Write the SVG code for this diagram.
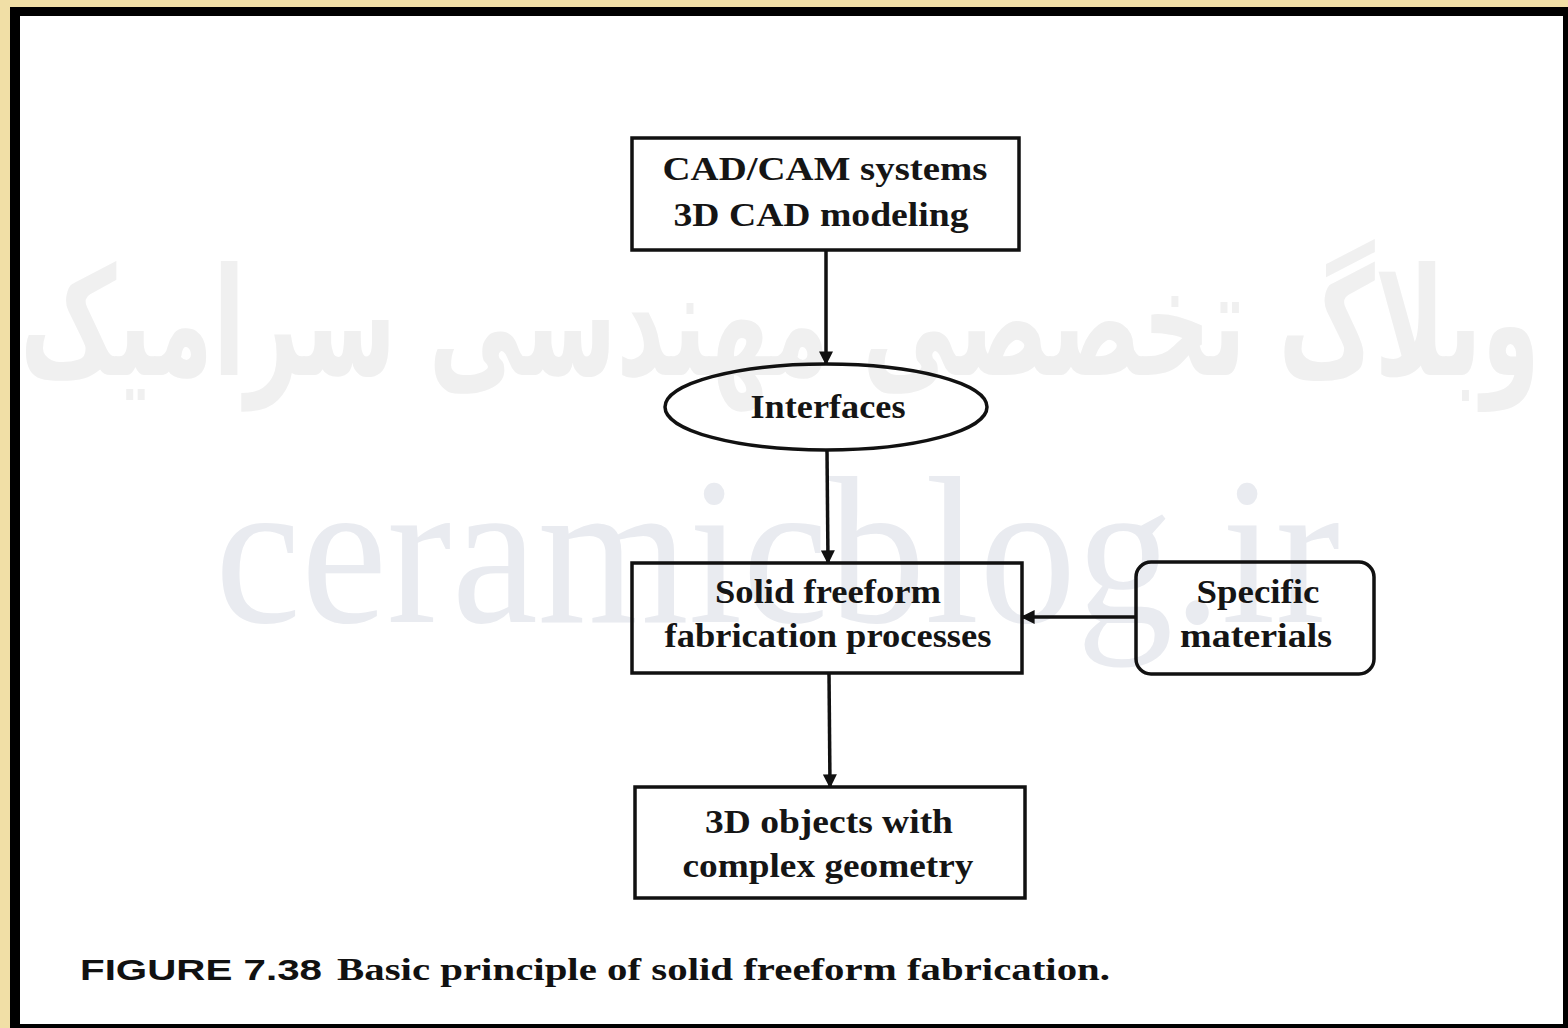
<svg xmlns="http://www.w3.org/2000/svg" width="1568" height="1028" viewBox="0 0 1568 1028">
<defs>
<style>
.box{fill:none;stroke:#111;stroke-width:3.5}
.t{font-family:"Liberation Serif","Times New Roman",serif;font-weight:bold;font-size:33px;fill:#151515;text-anchor:middle}
.cap{font-family:"Liberation Sans",Arial,sans-serif;font-weight:bold;font-size:30px;fill:#111}
.capr{font-family:"Liberation Serif","Times New Roman",serif;font-weight:bold;font-size:31px;fill:#111}
.edge{stroke:#111;stroke-width:3.5;fill:none}
</style>
<marker id="ah" viewBox="0 0 10 10" refX="9" refY="5" markerWidth="4" markerHeight="4" orient="auto" markerUnits="strokeWidth">
<path d="M0,0 L10,5 L0,10 z" fill="#111"/>
</marker>
</defs>
<rect x="0" y="0" width="1568" height="1028" fill="#f1dfa6"/>
<rect x="10" y="7" width="1558" height="1021" fill="#000"/>
<rect x="20" y="16" width="1543" height="1008" fill="#fff"/>
<g id="watermark">
<text x="780" y="375" font-family="'DejaVu Sans',sans-serif" font-weight="bold" font-size="150" fill="#f0f0f0" text-anchor="middle" textLength="1520" lengthAdjust="spacingAndGlyphs" direction="rtl">وبلاگ تخصصی مهندسی سرامیک</text>
<text x="215" y="622" font-family="'Liberation Serif',serif" font-size="210" fill="#e9ebf0" textLength="1125" lengthAdjust="spacingAndGlyphs">ceramicblog.ir</text>
</g>
<g id="connectors">
<line class="edge" x1="826" y1="250" x2="826" y2="364" marker-end="url(#ah)"/>
<line class="edge" x1="827" y1="450" x2="828" y2="563" marker-end="url(#ah)"/>
<line class="edge" x1="829" y1="673" x2="830" y2="787" marker-end="url(#ah)"/>
<line class="edge" x1="1136" y1="617" x2="1022" y2="617" marker-end="url(#ah)"/>
</g>
<g id="n1">
<rect class="box" x="632" y="138" width="387" height="112"/>
<text class="t" x="825" y="180" textLength="325" lengthAdjust="spacingAndGlyphs">CAD/CAM  systems</text>
<text class="t" x="821" y="226" textLength="295" lengthAdjust="spacingAndGlyphs">3D CAD modeling</text>
</g>
<g id="n2">
<ellipse class="box" cx="826" cy="407" rx="161" ry="43"/>
<text class="t" x="828" y="418" textLength="155" lengthAdjust="spacingAndGlyphs">Interfaces</text>
</g>
<g id="n3">
<rect class="box" x="632" y="563" width="390" height="110"/>
<text class="t" x="828" y="603" textLength="226" lengthAdjust="spacingAndGlyphs">Solid freeform</text>
<text class="t" x="828" y="647" textLength="327" lengthAdjust="spacingAndGlyphs">fabrication processes</text>
</g>
<g id="n4">
<rect class="box" x="1136" y="562" width="238" height="112" rx="15" ry="15"/>
<text class="t" x="1258" y="603" textLength="123" lengthAdjust="spacingAndGlyphs">Specific</text>
<text class="t" x="1256" y="647" textLength="152" lengthAdjust="spacingAndGlyphs">materials</text>
</g>
<g id="n5">
<rect class="box" x="635" y="787" width="390" height="111"/>
<text class="t" x="829" y="833" textLength="248" lengthAdjust="spacingAndGlyphs">3D objects with</text>
<text class="t" x="828" y="877" textLength="291" lengthAdjust="spacingAndGlyphs">complex geometry</text>
</g>
<g id="caption">
<text class="cap" x="80" y="980" textLength="242" lengthAdjust="spacingAndGlyphs">FIGURE 7.38</text>
<text class="capr" x="337" y="980" textLength="773" lengthAdjust="spacingAndGlyphs">Basic principle of solid freeform fabrication.</text>
</g>
</svg>
